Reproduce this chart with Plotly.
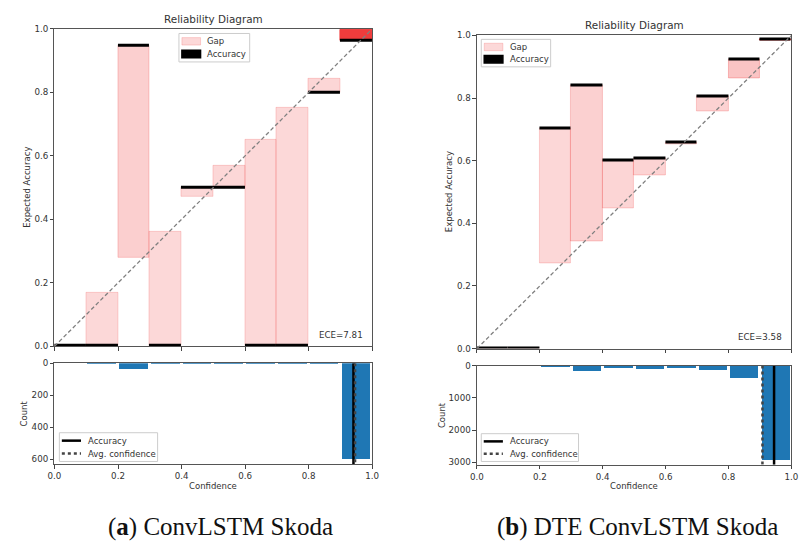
import numpy as np
import plotly.graph_objects as go

# ---- shared binning (10 equal-width confidence bins) ----
bin_edges = [0.0, 0.1, 0.2, 0.3, 0.4, 0.5, 0.6, 0.7, 0.8, 0.9, 1.0]

# ---- (a) ConvLSTM Skoda ----
a_accuracy = [0.0, 0.0, 0.945, 0.0, 0.50, 0.50, 0.0, 0.0, 0.80, 0.962]
a_confidence = [0.0, 0.17, 0.28, 0.362, 0.47, 0.568, 0.65, 0.75, 0.843, 0.998]
a_counts = [0, 1, 36, 1, 2, 2, 1, 1, 5, 600]
a_avg_accuracy = 0.941
a_avg_confidence = 0.946
a_ece = 7.81
a_count_ticks = [0, 200, 400, 600]

# ---- (b) DTE ConvLSTM Skoda ----
b_accuracy = [0.0, 0.0, 0.704, 0.839, 0.600, 0.608, 0.658, 0.804, 0.922, 0.986]
b_confidence = [0.0, 0.0, 0.272, 0.343, 0.446, 0.554, 0.653, 0.758, 0.862, 0.984]
b_counts = [0, 0, 15, 152, 61, 91, 61, 113, 366, 2930]
b_avg_accuracy = 0.945
b_avg_confidence = 0.908
b_ece = 3.58
b_count_ticks = [0, 1000, 2000, 3000]

unit_ticks = [0.0, 0.2, 0.4, 0.6, 0.8, 1.0]

W, H = 802, 546
TEXT = "#333333"
FONT = "DejaVu Sans"


def fx(p):
    return p / W


def fy(p):
    return 1 - p / H


def ax_id(letter, i):
    return letter if i == 1 else f"{letter}{i}"


panels = [
    dict(acc=a_accuracy, conf=a_confidence, counts=a_counts,
         avg_acc=a_avg_accuracy, avg_conf=a_avg_confidence, ece=a_ece,
         count_ticks=a_count_ticks, caption="(<b>a</b>) ConvLSTM Skoda",
         xpx=(48.3, 371.7), toppx=(24.3, 347.7), botpx=(365.0, 467.7),
         ytitle_x=(19.5, 17.0), caption_x=217.0,
         leg_top=(175.0, 29.0, 247.0, 58.0), leg_bot=(53.3, 435.7, 153.3, 465.0)),
    dict(acc=b_accuracy, conf=b_confidence, counts=b_counts,
         avg_acc=b_avg_accuracy, avg_conf=b_avg_confidence, ece=b_ece,
         count_ticks=b_count_ticks, caption="(<b>b</b>) DTE ConvLSTM Skoda",
         xpx=(478.3, 798.3), toppx=(31.0, 350.0), botpx=(367.3, 468.3),
         ytitle_x=(450.0, 442.7), caption_x=641.7,
         leg_top=(482.7, 35.0, 553.3, 63.0), leg_bot=(482.7, 436.7, 581.7, 465.0)),
]

axis_style = dict(
    showline=True, linecolor="#555555", linewidth=1, mirror=True,
    ticks="outside", ticklen=3.5, tickwidth=0.8, tickcolor="#444444",
    showgrid=False, zeroline=False,
    tickfont=dict(family=FONT, size=8.7, color=TEXT),
)

fig = go.Figure()
layout = dict(annotations=[], shapes=[])
centers = [(bin_edges[i] + bin_edges[i + 1]) / 2 for i in range(len(bin_edges) - 1)]
bin_width = bin_edges[1] - bin_edges[0]


def draw_legend(box, entries):
    """Matplotlib-style legend box: entries are (kind, style, label)."""
    x0, y0, x1, y1 = box
    shapes, anns = layout["shapes"], layout["annotations"]
    shapes.append(dict(type="rect", xref="paper", yref="paper",
                       x0=fx(x0), x1=fx(x1), y0=fy(y1), y1=fy(y0),
                       fillcolor="rgba(255,255,255,0.8)",
                       line=dict(color="#cccccc", width=1), layer="above"))
    n = len(entries)
    row_h = (y1 - y0 - 3.0) / n
    for j, (kind, style, label) in enumerate(entries):
        cy = y0 + 1.5 + row_h * (j + 0.5)
        if kind == "patch":
            shapes.append(dict(type="rect", xref="paper", yref="paper",
                               x0=fx(x0 + 3.0), x1=fx(x0 + 22.0),
                               y0=fy(cy + 3.8), y1=fy(cy - 3.8),
                               fillcolor=style["fill"],
                               line=dict(color=style["edge"], width=style.get("lw", 1)),
                               layer="above"))
        else:
            shapes.append(dict(type="line", xref="paper", yref="paper",
                               x0=fx(x0 + 2.5), x1=fx(x0 + 22.0), y0=fy(cy), y1=fy(cy),
                               line=dict(color=style["color"], width=2.5,
                                         dash=style.get("dash", "solid")),
                               layer="above"))
        anns.append(dict(text=label, xref="paper", yref="paper",
                         x=fx(x0 + 27.0), y=fy(cy), xanchor="left", yanchor="middle",
                         showarrow=False, font=dict(family=FONT, size=8.5, color=TEXT)))


for k, p in enumerate(panels):
    top_i = 2 * k + 1
    bot_i = 2 * k + 2
    xt, yt = ax_id("x", top_i), ax_id("y", top_i)
    xb, yb = ax_id("x", bot_i), ax_id("y", bot_i)

    acc = np.array(p["acc"])
    conf = np.array(p["conf"])
    counts = np.array(p["counts"], dtype=float)
    alphas = 0.2 + 0.8 * counts / counts.max()
    gap_colors = [f"rgba(240,60,60,{a:.3f})" for a in alphas]

    # gap between accuracy and confidence in each bin
    fig.add_trace(go.Bar(
        x=centers, y=np.abs(acc - conf), base=np.minimum(acc, conf), width=bin_width,
        marker=dict(color=gap_colors, line=dict(color=gap_colors, width=1)),
        name="Gap", xaxis=xt, yaxis=yt, showlegend=False, hoverinfo="skip",
    ))
    # accuracy per bin, drawn as a flat black bar
    fig.add_trace(go.Bar(
        x=centers, y=[0] * len(acc), base=acc, width=bin_width,
        marker=dict(color="black", line=dict(color="black", width=3)),
        name="Accuracy", xaxis=xt, yaxis=yt, showlegend=False, hoverinfo="skip",
    ))
    # perfect calibration diagonal
    fig.add_trace(go.Scatter(
        x=[0, 1], y=[0, 1], mode="lines",
        line=dict(color="gray", width=1.3, dash="4px,2.5px"),
        showlegend=False, xaxis=xt, yaxis=yt, hoverinfo="skip",
    ))

    # confidence histogram
    ymax = counts.max() * 1.05
    fig.add_trace(go.Bar(
        x=centers, y=counts, width=bin_width * 0.9,
        marker=dict(color="#1f77b4", line=dict(width=0)),
        name="Count", showlegend=False, xaxis=xb, yaxis=yb, hoverinfo="skip",
    ))
    fig.add_trace(go.Scatter(
        x=[p["avg_acc"], p["avg_acc"]], y=[0, ymax], mode="lines",
        line=dict(color="black", width=2.5),
        name="Accuracy", showlegend=False, xaxis=xb, yaxis=yb, hoverinfo="skip",
    ))
    fig.add_trace(go.Scatter(
        x=[p["avg_conf"], p["avg_conf"]], y=[0, ymax], mode="lines",
        line=dict(color="#444444", width=2.5, dash="dot"),
        name="Avg. confidence", showlegend=False, xaxis=xb, yaxis=yb, hoverinfo="skip",
    ))

    xdom = [fx(p["xpx"][0]), fx(p["xpx"][1])]
    tdom = [fy(p["toppx"][1]), fy(p["toppx"][0])]
    bdom = [fy(p["botpx"][1]), fy(p["botpx"][0])]

    layout[ax_id("xaxis", top_i)] = dict(axis_style, domain=xdom, anchor=yt, range=[0, 1],
                                         tickvals=unit_ticks, showticklabels=False)
    layout[ax_id("yaxis", top_i)] = dict(axis_style, domain=tdom, anchor=xt, range=[0, 1],
                                         tickvals=unit_ticks, tickformat=".1f")
    layout[ax_id("xaxis", bot_i)] = dict(axis_style, domain=xdom, anchor=yb, range=[0, 1],
                                         tickvals=unit_ticks, tickformat=".1f")
    layout[ax_id("yaxis", bot_i)] = dict(axis_style, domain=bdom, anchor=xb, range=[ymax, 0],
                                         tickvals=p["count_ticks"])

    # legends
    draw_legend(p["leg_top"], [
        ("patch", dict(fill=gap_colors[0], edge=gap_colors[0]), "Gap"),
        ("patch", dict(fill="black", edge="black", lw=1.5), "Accuracy"),
    ])
    draw_legend(p["leg_bot"], [
        ("line", dict(color="black"), "Accuracy"),
        ("line", dict(color="#444444", dash="dot"), "Avg. confidence"),
    ])

    ann = layout["annotations"]
    xmid = (xdom[0] + xdom[1]) / 2
    ann.append(dict(text="Reliability Diagram", xref="paper", yref="paper",
                    x=xmid, y=tdom[1], xanchor="center", yanchor="bottom", yshift=2,
                    showarrow=False, font=dict(family=FONT, size=10.4, color=TEXT)))
    ann.append(dict(text=f"ECE={p['ece']:.2f}", xref=f"{xt} domain", yref=f"{yt} domain",
                    x=0.978, y=0.015, xanchor="right", yanchor="bottom",
                    showarrow=False, font=dict(family=FONT, size=8.7, color=TEXT)))
    ann.append(dict(text="Expected Accuracy", xref="paper", yref="paper",
                    x=fx(p["ytitle_x"][0]), y=(tdom[0] + tdom[1]) / 2, textangle=-90,
                    xanchor="center", yanchor="middle", showarrow=False,
                    font=dict(family=FONT, size=8.5, color=TEXT)))
    ann.append(dict(text="Count", xref="paper", yref="paper",
                    x=fx(p["ytitle_x"][1]), y=(bdom[0] + bdom[1]) / 2, textangle=-90,
                    xanchor="center", yanchor="middle", showarrow=False,
                    font=dict(family=FONT, size=8.5, color=TEXT)))
    ann.append(dict(text="Confidence", xref="paper", yref="paper",
                    x=xmid, y=fy(490.0), xanchor="center", yanchor="middle",
                    showarrow=False, font=dict(family=FONT, size=8.5, color=TEXT)))
    ann.append(dict(text=p["caption"], xref="paper", yref="paper",
                    x=fx(p["caption_x"]), y=fy(532.0), xanchor="center", yanchor="middle",
                    showarrow=False,
                    font=dict(family="Liberation Serif", size=25, color="#111111")))

fig.update_layout(
    width=W, height=H, autosize=False,
    margin=dict(l=0, r=0, t=0, b=0),
    paper_bgcolor="white", plot_bgcolor="white",
    barmode="overlay", bargap=0,
    showlegend=False,
    **layout,
)

fig.write_html("out.html")
